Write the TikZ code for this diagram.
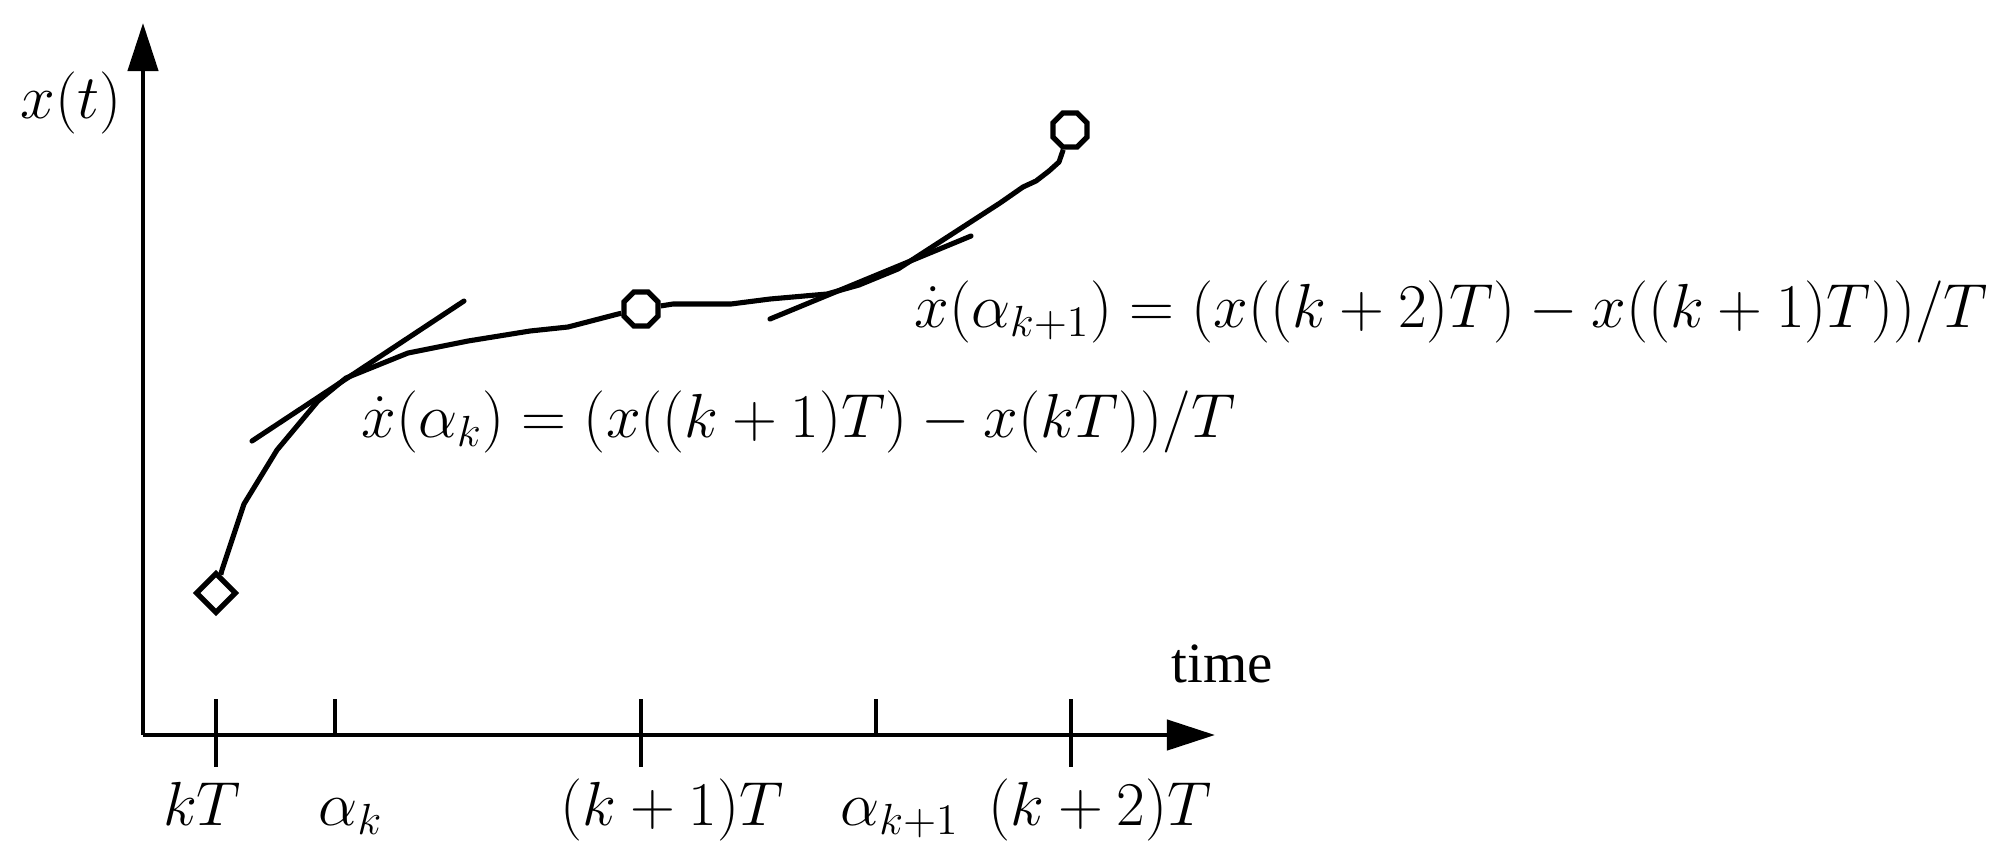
\RequirePackage{fix-cm}
\documentclass[tikz,border=0pt]{standalone}
\usepackage{amsmath,amssymb}
\usepackage{fontspec}
\usepackage{tikz}
\usetikzlibrary{arrows.meta, positioning, shapes.geometric}
\newfontfamily\timefont{Liberation Serif}

\begin{document}
\begin{tikzpicture}[
  x=0.01cm, y=-0.01cm,
  axis/.style={line width=1.25pt, -{Triangle[length=0.48cm, width=0.30cm]}},
  tickmark/.style={line width=1.25pt},
  curve/.style={line width=1.45pt, line join=round},
  tangent/.style={line width=1.45pt, line cap=round},
  sample/.style={draw, line width=1.5pt, inner sep=0pt, minimum size=0.37cm},
  lbl/.style={font=\fontsize{17.7}{21}\selectfont, inner sep=0pt}
]
\useasboundingbox (0,0) rectangle (2011,866);

% Axes
\coordinate (o) at (143,735);
\coordinate (ytip) at (143,23);
\coordinate (xtip) at (1215,735);
\draw[axis] (o) -- (ytip);
\draw[axis] (o) -- (xtip);

% Tick marks
\draw[tickmark] (216,699) -- (216,767);
\draw[tickmark] (335,699) -- (335,735);
\draw[tickmark] (641,699) -- (641,767);
\draw[tickmark] (876,699) -- (876,735);
\draw[tickmark] (1071,699) -- (1071,767);

% Sample points
\node[sample, diamond, minimum size=0.41cm] (s0) at (216,593) {};
\node[sample, regular polygon, regular polygon sides=8] (s1) at (641,309) {};
\node[sample, regular polygon, regular polygon sides=8] (s2) at (1070,130) {};

% Trajectory
\draw[curve] (s0) -- (222,570) -- (244,504) -- (277,450) -- (318,401) -- (346,378)
  -- (408,353) -- (468,341) -- (530,331) -- (568,327) -- (618,314) -- (s1);
\draw[curve] (s1) -- (673,304) -- (731,304) -- (770,299) -- (827,294) -- (859,285)
  -- (898,269) -- (949,236) -- (1000,203) -- (1023,187) -- (1036,181) -- (1049,171)
  -- (1059,162) -- (s2);

% Tangents
\draw[tangent] (252,441) -- (464,301);
\draw[tangent] (770,319) -- (971,236);

% Labels
\node[lbl, anchor=base] (ylbl) at (71,118) {$x(t)$};
\node[lbl, anchor=base, font=\fontsize{16.2}{19}\timefont] (xlbl) at (1222,682) {time};
\node[lbl, anchor=base] (t0) at (202,825) {$kT$};
\node[lbl, anchor=base] (a0) at (351,825) {$\alpha_k$};
\node[lbl, anchor=base] (t1) at (672,825) {$(k+1)T$};
\node[lbl, anchor=base] (a1) at (900,825) {$\alpha_{k+1}$};
\node[lbl, anchor=base] (t2) at (1100,825) {$(k+2)T$};

% Slope formulas
\node[lbl, anchor=base west] (f0) at (361,437) {$\dot{x}(\alpha_k) = (x((k+1)T) - x(kT))/T$};
\node[lbl, anchor=base west] (f1) at (914,327) {$\dot{x}(\alpha_{k+1}) = (x((k+2)T) - x((k+1)T))/T$};

\end{tikzpicture}
\end{document}
